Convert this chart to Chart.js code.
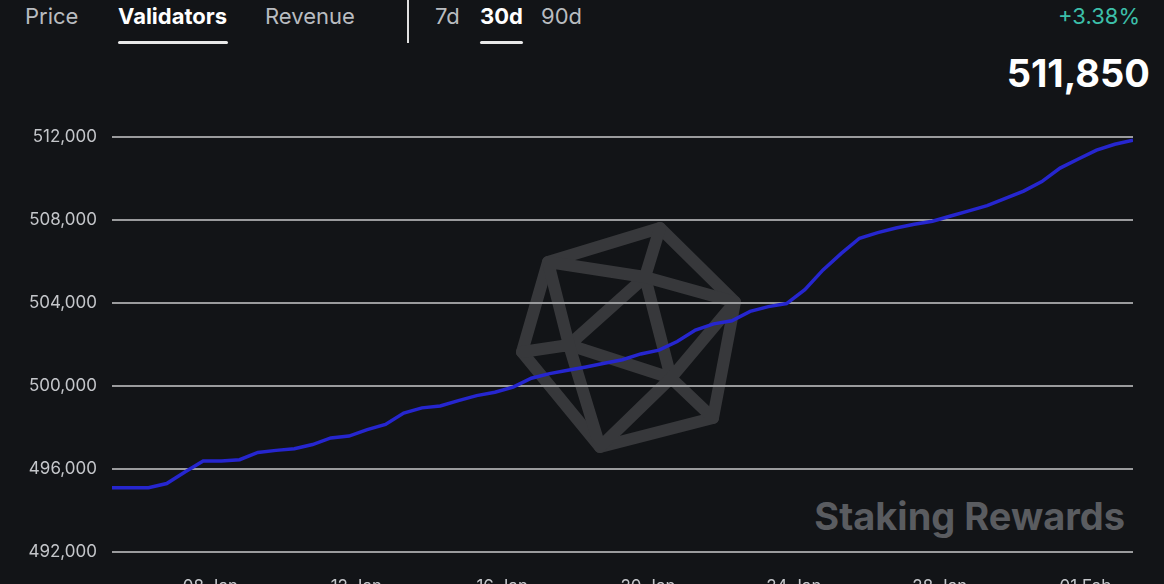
<!DOCTYPE html>
<html>
<head>
<meta charset="utf-8">
<script src="https://cdn.jsdelivr.net/npm/chart.js@4/dist/chart.umd.min.js"></script>
<style>
  html, body { margin: 0; padding: 0; background: #121417; overflow: hidden; }
  body { width: 1164px; height: 584px; position: relative; font-family: Inter, "Noto Sans", sans-serif; }
  .tab { position: absolute; top: 2px; font-size: 22px; color: #b9bcc0; line-height: 28px; }
  .tab.active { color: #ffffff; font-weight: 700; }
  .bar { position: absolute; top: 41px; height: 3px; background: #e8e8e8; border-radius: 2px; }
  .divider { position: absolute; left: 407px; top: 0; width: 2px; height: 43px; background: #e0e0e0; }
  #change { position: absolute; right: 24px; top: 3px; font-size: 22px; color: #3cbfa9; }
  #value { position: absolute; right: 14px; top: 50px; font-size: 38px; font-weight: 700; color: #ffffff; }
  #mark { position: absolute; left: 0; top: 0; }
  #wrap { position: absolute; left: 0; top: 112px; width: 1164px; height: 495px; }
</style>
</head>
<body>
<svg id="mark" width="1164" height="584">
  <g fill="none" stroke="#37383b" stroke-width="12" stroke-linejoin="round" stroke-linecap="round">
    <polygon points="660,228 548,262 522,352 600,447 713,418 735,302"/>
    <polygon points="645,277 569,345 671,378"/>
    <path d="M645,277 L548,262 M645,277 L660,228 M645,277 L735,302
             M569,345 L548,262 M569,345 L522,352 M569,345 L600,447
             M671,378 L600,447 M671,378 L713,418 M671,378 L735,302"/>
  </g>
  <text x="1125" y="530" text-anchor="end" font-family="Inter, sans-serif" font-weight="700" font-size="38" fill="#5a5c60">Staking Rewards</text>
</svg>

<div class="tab" style="left:25px">Price</div>
<div class="tab active" style="left:118px">Validators</div>
<div class="bar" style="left:118px;width:110px"></div>
<div class="tab" style="left:265px">Revenue</div>
<div class="divider"></div>
<div class="tab" style="left:435px">7d</div>
<div class="tab active" style="left:480px">30d</div>
<div class="bar" style="left:480px;width:43px"></div>
<div class="tab" style="left:541px">90d</div>
<div id="change">+3.38%</div>
<div id="value">511,850</div>

<div id="wrap"><canvas id="chart"></canvas></div>

<script>
// days counted from 1 Jan, one reading every half day
const startDay = 5.3;
const stepDays = 0.5;
const validators = [
  495100, 495100, 495100, 495300, 495860, 496390, 496390, 496450, 496800, 496900,
  496980, 497180, 497500, 497590, 497900, 498150, 498700, 498950, 499040, 499300,
  499540, 499700, 499950, 500380, 500600, 500760, 500920, 501100, 501270, 501550,
  501730, 502150, 502700, 503000, 503150, 503600, 503830, 503980, 504650, 505600,
  506400, 507130, 507400, 507620, 507800, 507950, 508200, 508450, 508700, 509050,
  509400, 509860, 510510, 510950, 511380, 511660, 511850
];
const tickDays = [8, 12, 16, 20, 24, 28, 32];
const tickLabels = ["08 Jan", "12 Jan", "16 Jan", "20 Jan", "24 Jan", "28 Jan", "01 Feb"];
const yTicks = [492000, 496000, 500000, 504000, 508000, 512000];

const points = validators.map((v, i) => ({ x: startDay + i * stepDays, y: v }));

new Chart(document.getElementById("chart").getContext("2d"), {
  type: "line",
  data: {
    datasets: [{
      data: points,
      borderColor: "#2626cf",
      borderWidth: 3.5,
      pointRadius: 0,
      tension: 0,
      fill: false
    }]
  },
  options: {
    responsive: true,
    maintainAspectRatio: false,
    animation: false,
    layout: { padding: { top: 10, right: 31, left: 0, bottom: 0 } },
    plugins: { legend: { display: false }, tooltip: { enabled: false } },
    scales: {
      x: {
        type: "linear",
        min: startDay,
        max: startDay + (validators.length - 1) * stepDays,
        grid: { display: false },
        border: { display: false },
        afterFit: (s) => { s.height = 55; },
        afterBuildTicks: (s) => { s.ticks = tickDays.map((d) => ({ value: d })); },
        ticks: {
          padding: 17,
          color: "#c4c6ca",
          font: { family: "Inter", size: 17 },
          maxRotation: 0,
          autoSkip: false,
          callback: (v) => tickLabels[tickDays.indexOf(v)] || ""
        }
      },
      y: {
        min: 492000,
        max: 512000,
        grid: { color: "#9a9b9d", lineWidth: 2, drawTicks: false },
        border: { display: false },
        afterFit: (s) => { s.width = 112; },
        afterBuildTicks: (s) => { s.ticks = yTicks.map((v) => ({ value: v })); },
        ticks: {
          padding: 15,
          color: "#c4c6ca",
          font: { family: "Inter", size: 17 },
          callback: (v) => v.toLocaleString("en-US")
        }
      }
    }
  }
});
</script>
</body>
</html>
